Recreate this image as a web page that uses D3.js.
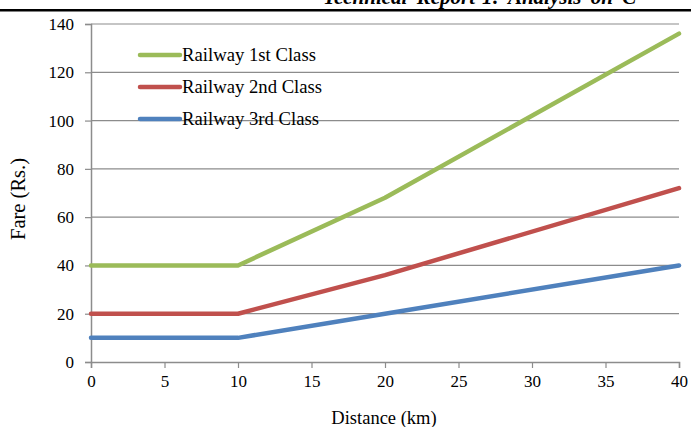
<!DOCTYPE html>
<html>
<head>
<meta charset="utf-8">
<script src="https://cdn.jsdelivr.net/npm/d3@7"></script>
<style>
  body { margin:0; background:#fff; }
  svg { display:block; font-family:"Liberation Serif","Times New Roman",serif; }
</style>
</head>
<body>
<svg id="chart" width="691" height="427"></svg>
<script>
// --- Data ---
const distances = [0, 10, 20, 40];
const firstClass  = [40, 40, 68, 136];
const secondClass = [20, 20, 36, 72];
const thirdClass  = [10, 10, 20, 40];
const seriesNames = ["Railway 1st Class", "Railway 2nd Class", "Railway 3rd Class"];
const seriesColors = ["#9BBB59", "#C0504D", "#4F81BD"];
const xTicks = [0, 5, 10, 15, 20, 25, 30, 35, 40];
const yTicks = [0, 20, 40, 60, 80, 100, 120, 140];

const series = [firstClass, secondClass, thirdClass].map((vals, i) => ({
  name: seriesNames[i], color: seriesColors[i],
  pts: distances.map((d, j) => ({x: d, y: vals[j]}))
}));

const svg = d3.select("#chart");
const M = {l:91, r:12, t:24, b:65};
const W = 691, H = 427;

const x = d3.scaleLinear().domain([0, 40]).range([M.l, W - M.r]);
const y = d3.scaleLinear().domain([0, 140]).range([H - M.b, M.t]);

// page header (cut off at top of the crop)
svg.append("text")
  .attr("x", 323).attr("y", 3.5)
  .attr("font-size", 21).attr("font-weight", "bold").attr("font-style", "italic")
  .attr("word-spacing", 4)
  .text("Technical Report-1: Analysis on C");
svg.append("rect").attr("x", 0).attr("y", 9).attr("width", W).attr("height", 2.5).attr("fill", "#000");

// gridlines
svg.append("g").selectAll("line").data(yTicks.filter(d => d > 0)).join("line")
  .attr("x1", x(0)).attr("x2", x(40))
  .attr("y1", d => y(d)).attr("y2", d => y(d))
  .attr("stroke", "#8c8c8c").attr("stroke-width", 1.2);

// y axis
const gy = svg.append("g").attr("transform", `translate(${x(0)},0)`)
  .call(d3.axisLeft(y).tickValues(yTicks).tickSize(6).tickPadding(11));
// x axis
const gx = svg.append("g").attr("transform", `translate(0,${y(0)})`)
  .call(d3.axisBottom(x).tickValues(xTicks).tickSize(6).tickPadding(7));

[gx, gy].forEach(g => {
  g.select(".domain").attr("stroke", "#8c8c8c").attr("stroke-width", 1.5);
  g.selectAll(".tick line").attr("stroke", "#8c8c8c").attr("stroke-width", 1.2);
  g.selectAll(".tick text").attr("fill", "#000").attr("font-size", 17)
    .attr("font-family", "Liberation Serif, serif");
});

// lines
const line = d3.line().x(d => x(d.x)).y(d => y(d.y));
svg.append("g").selectAll("path").data(series).join("path")
  .attr("d", d => line(d.pts))
  .attr("fill", "none")
  .attr("stroke", d => d.color)
  .attr("stroke-width", 4.5)
  .attr("stroke-linecap", "round")
  .attr("stroke-linejoin", "round");

// legend
const leg = svg.append("g").selectAll("g").data(series).join("g")
  .attr("transform", (d, i) => `translate(140,${55 + i * 32})`);
leg.append("line").attr("x1", 0).attr("x2", 40).attr("y1", 0).attr("y2", 0)
  .attr("stroke", d => d.color).attr("stroke-width", 4.5).attr("stroke-linecap", "round");
leg.append("text").attr("x", 42).attr("y", 6).attr("font-size", 18.7).text(d => d.name);

// axis titles
svg.append("text").attr("x", (x(0) + x(40)) / 2 - 1).attr("y", 424)
  .attr("text-anchor", "middle").attr("font-size", 18.5).text("Distance (km)");
svg.append("text").attr("transform", "translate(25,199) rotate(-90)")
  .attr("text-anchor", "middle").attr("font-size", 20.5).text("Fare (Rs.)");
</script>
</body>
</html>
